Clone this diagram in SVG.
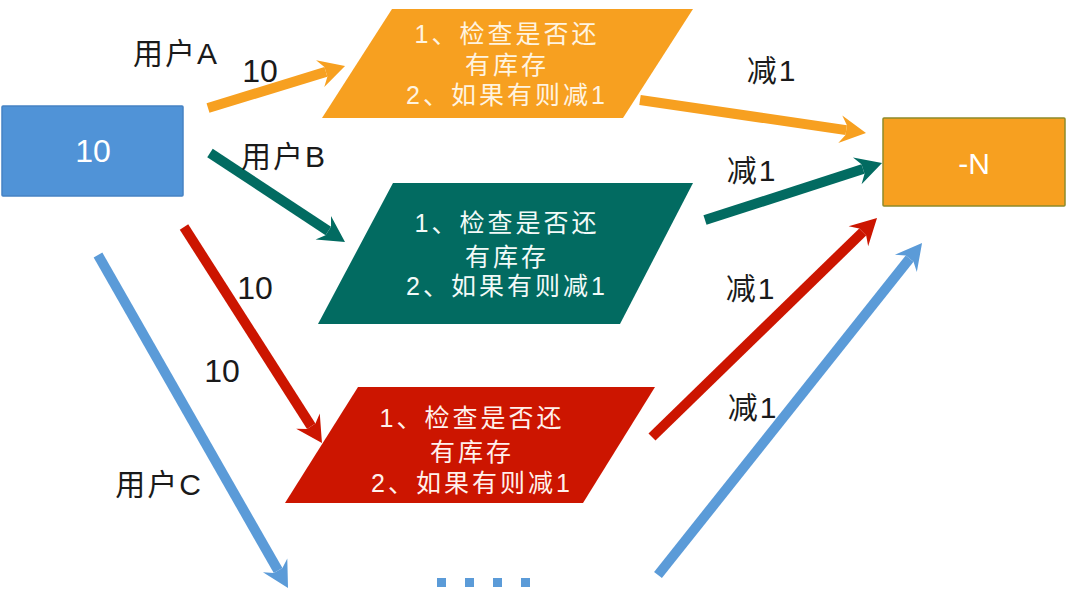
<svg xmlns="http://www.w3.org/2000/svg" width="1078" height="595" viewBox="0 0 1078 595">
<style>
  text { font-family: "Liberation Sans", "Noto Sans CJK SC", sans-serif; text-anchor: middle; }
  .lbl { font-size: 30px; fill: #1a1a1a; letter-spacing: 2px; }
  .num { font-size: 32px; fill: #1a1a1a; }
  .nt { font-size: 25px; letter-spacing: 3px; }
  .shaft { fill: none; stroke-width: 10; stroke-linecap: butt; }
</style>
<defs>
  <marker id="hO" markerUnits="userSpaceOnUse" orient="auto" refX="0" refY="0" markerWidth="40" markerHeight="40" viewBox="-10 -20 40 40" overflow="visible">
    <path d="M20,0 L-6,-14 L0,-5 L0,5 L-6,14 Z" fill="#F7A020"/>
  </marker>
  <marker id="hT" markerUnits="userSpaceOnUse" orient="auto" refX="0" refY="0" markerWidth="40" markerHeight="40" viewBox="-10 -20 40 40" overflow="visible">
    <path d="M20,0 L-6,-14 L0,-5 L0,5 L-6,14 Z" fill="#026B61"/>
  </marker>
  <marker id="hR" markerUnits="userSpaceOnUse" orient="auto" refX="0" refY="0" markerWidth="40" markerHeight="40" viewBox="-10 -20 40 40" overflow="visible">
    <path d="M20,0 L-6,-14 L0,-5 L0,5 L-6,14 Z" fill="#CC1500"/>
  </marker>
  <marker id="hB" markerUnits="userSpaceOnUse" orient="auto" refX="0" refY="0" markerWidth="40" markerHeight="40" viewBox="-10 -20 40 40" overflow="visible">
    <path d="M20,0 L-6,-14 L0,-5 L0,5 L-6,14 Z" fill="#5B9BD8"/>
  </marker>
</defs>
<rect width="1078" height="595" fill="#FFFFFF"/>

<g id="connectors">
  <line class="shaft" x1="208" y1="108" x2="325.9" y2="71.9" stroke="#F7A020" marker-end="url(#hO)"/>
  <line class="shaft" x1="640" y1="100" x2="846.2" y2="130.1" stroke="#F7A020" marker-end="url(#hO)"/>
  <line class="shaft" x1="210" y1="153" x2="328.3" y2="231" stroke="#026B61" marker-end="url(#hT)"/>
  <line class="shaft" x1="705" y1="220" x2="863" y2="169.1" stroke="#026B61" marker-end="url(#hT)"/>
  <line class="shaft" x1="184" y1="227" x2="311.2" y2="426.2" stroke="#CC1500" marker-end="url(#hR)"/>
  <line class="shaft" x1="652" y1="437" x2="862.7" y2="232" stroke="#CC1500" marker-end="url(#hR)"/>
  <line class="shaft" x1="98" y1="255" x2="278.1" y2="570.6" stroke="#5B9BD8" marker-end="url(#hB)"/>
  <line class="shaft" x1="658" y1="575" x2="909.6" y2="258.7" stroke="#5B9BD8" marker-end="url(#hB)"/>
</g>

<g id="labels">
  <text class="lbl" x="176" y="64">用户A</text>
  <text class="num" x="260" y="82">10</text>
  <text class="lbl" x="284" y="167">用户B</text>
  <text class="num" x="255" y="299">10</text>
  <text class="num" x="222" y="382">10</text>
  <text class="lbl" x="159" y="495">用户C</text>
  <text class="lbl" x="772" y="81">减1</text>
  <text class="lbl" x="752" y="181">减1</text>
  <text class="lbl" x="751" y="299">减1</text>
  <text class="lbl" x="753" y="418">减1</text>
</g>

<g id="stock">
  <rect x="2" y="106" width="181" height="90" fill="#5093D7" stroke="#4582C4" stroke-width="1.5" rx="1"/>
  <text x="93" y="162" font-size="32" fill="#FFFFFF" style="font-size:32px">10</text>
</g>

<g id="checkA">
  <polygon points="392,9 693,9 623,118 322,118" fill="#F7A020"/>
  <text class="nt" x="507" y="43" fill="#FFF4E0">1、检查是否还</text>
  <text class="nt" x="507" y="74" fill="#FFF4E0">有库存</text>
  <text class="nt" x="507" y="104" fill="#FFF4E0">2、如果有则减1</text>
</g>

<g id="checkB">
  <polygon points="393,183 693,183 620,324 318,324" fill="#026B61"/>
  <text class="nt" x="507" y="232" fill="#F2FAF8">1、检查是否还</text>
  <text class="nt" x="507" y="266" fill="#F2FAF8">有库存</text>
  <text class="nt" x="507" y="295" fill="#F2FAF8">2、如果有则减1</text>
</g>

<g id="checkC">
  <polygon points="358,387 655,387 583,503 285,503" fill="#CC1500"/>
  <text class="nt" x="472" y="427" fill="#FFF0EC">1、检查是否还</text>
  <text class="nt" x="472" y="461" fill="#FFF0EC">有库存</text>
  <text class="nt" x="472" y="492" fill="#FFF0EC">2、如果有则减1</text>
</g>

<g id="result">
  <rect x="883" y="118" width="182" height="88" fill="#F7A020" stroke="#8E8A2A" stroke-width="1.5" rx="1"/>
  <text x="974" y="174" fill="#FFFFFF" style="font-size:30px">-N</text>
</g>

<g id="more">
  <rect x="437" y="578" width="9" height="9" fill="#5B9BD8"/>
  <rect x="465" y="578" width="9" height="9" fill="#5B9BD8"/>
  <rect x="493" y="578" width="9" height="9" fill="#5B9BD8"/>
  <rect x="521" y="578" width="9" height="9" fill="#5B9BD8"/>
</g>
</svg>
